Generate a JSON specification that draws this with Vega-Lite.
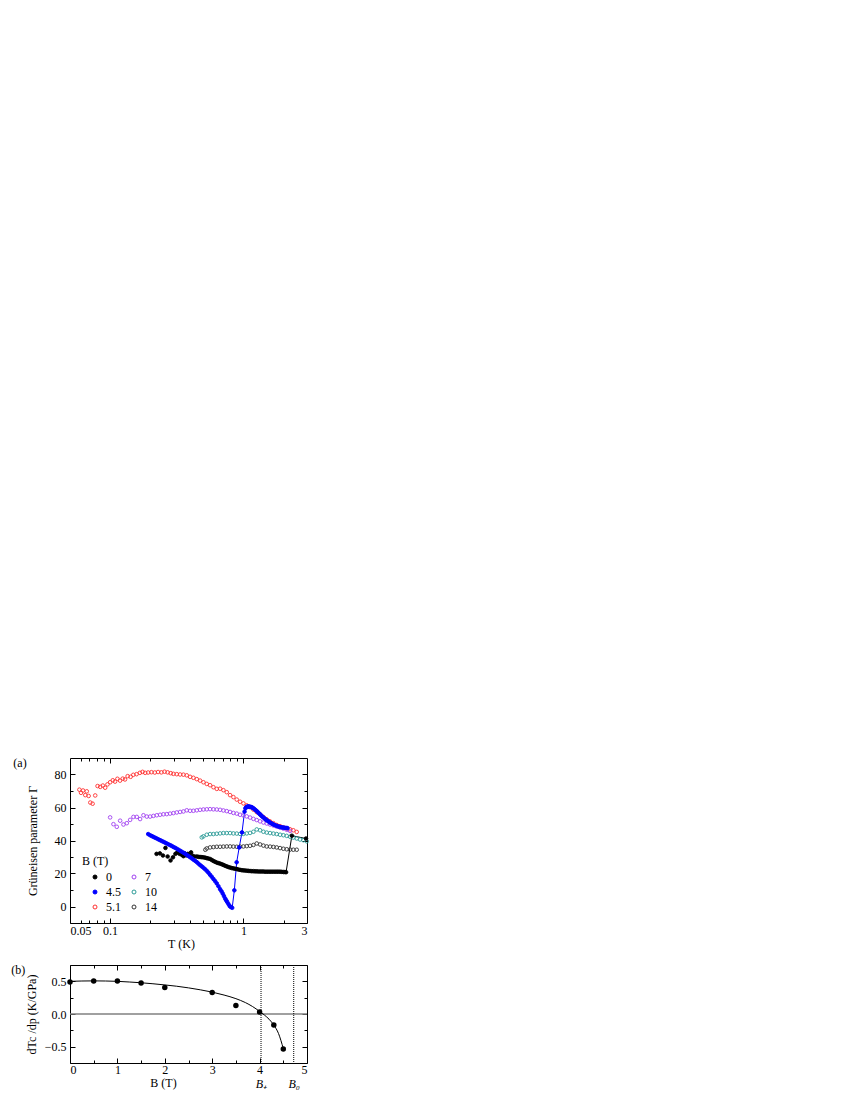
{
"$schema":"https://vega.github.io/schema/vega-lite/v6.json",
"padding":{"left":10,"top":756,"right":5,"bottom":5},
"background":"white",
"config":{
 "font":"Liberation Serif",
 "view":{"stroke":"#000","strokeWidth":1},
 "axis":{"grid":false,"domain":false,"tickColor":"#000","tickWidth":1,"labelColor":"#000","labelFontSize":12,"labelFont":"Liberation Serif","titleFont":"Liberation Serif","titleFontSize":12,"titleFontWeight":"normal","titleColor":"#000"},
 "legend":{"labelFont":"Liberation Serif","titleFont":"Liberation Serif","labelColor":"#000","titleColor":"#000"},
 "title":{"font":"Liberation Serif","fontSize":12,"fontWeight":"normal","color":"#000"}
},
"datasets":{
 "a":[
{"B":"5.1","T":0.0588,"G":70.8},{"B":"5.1","T":0.0605,"G":68.9},{"B":"5.1","T":0.0626,"G":70.3},{"B":"5.1","T":0.0651,"G":67.5},{"B":"5.1","T":0.0668,"G":69.8},{"B":"5.1","T":0.069,"G":67.0},{"B":"5.1","T":0.071,"G":63.0},{"B":"5.1","T":0.0739,"G":62.3},{"B":"5.1","T":0.0773,"G":67.3},{"B":"5.1","T":0.0805,"G":73.0},{"B":"5.1","T":0.0843,"G":72.5},{"B":"5.1","T":0.0882,"G":73.3},{"B":"5.1","T":0.0918,"G":72.0},{"B":"5.1","T":0.0955,"G":74.0},{"B":"5.1","T":0.1,"G":75.3},{"B":"5.1","T":0.1047,"G":76.5},{"B":"5.1","T":0.1089,"G":75.7},{"B":"5.1","T":0.1134,"G":77.4},{"B":"5.1","T":0.1187,"G":76.3},{"B":"5.1","T":0.1243,"G":77.5},{"B":"5.1","T":0.1293,"G":77.0},{"B":"5.1","T":0.1353,"G":79.0},{"B":"5.1","T":0.1425,"G":78.6},{"B":"5.1","T":0.1492,"G":79.8},{"B":"5.1","T":0.1579,"G":80.2},{"B":"5.1","T":0.1672,"G":81.0},{"B":"5.1","T":0.1751,"G":81.6},{"B":"5.1","T":0.1832,"G":81.0},{"B":"5.1","T":0.1929,"G":81.2},{"B":"5.1","T":0.2042,"G":81.4},{"B":"5.1","T":0.2163,"G":81.2},{"B":"5.1","T":0.229,"G":81.5},{"B":"5.1","T":0.2424,"G":81.3},{"B":"5.1","T":0.256,"G":81.7},{"B":"5.1","T":0.27,"G":81.3},{"B":"5.1","T":0.285,"G":80.8},{"B":"5.1","T":0.2985,"G":80.4},{"B":"5.1","T":0.3162,"G":80.2},{"B":"5.1","T":0.335,"G":80.0},{"B":"5.1","T":0.3548,"G":79.9},{"B":"5.1","T":0.3758,"G":79.5},{"B":"5.1","T":0.3981,"G":78.6},{"B":"5.1","T":0.4217,"G":78.0},{"B":"5.1","T":0.4467,"G":77.2},{"B":"5.1","T":0.4732,"G":76.3},{"B":"5.1","T":0.5012,"G":75.3},{"B":"5.1","T":0.5309,"G":74.3},{"B":"5.1","T":0.5623,"G":73.5},{"B":"5.1","T":0.5957,"G":72.3},{"B":"5.1","T":0.631,"G":71.3},{"B":"5.1","T":0.6683,"G":71.4},{"B":"5.1","T":0.7079,"G":70.5},{"B":"5.1","T":0.7499,"G":69.3},{"B":"5.1","T":0.7943,"G":67.5},{"B":"5.1","T":0.8414,"G":66.3},{"B":"5.1","T":0.8913,"G":64.8},{"B":"5.1","T":0.9441,"G":63.5},{"B":"5.1","T":1.0,"G":62.5},{"B":"5.1","T":1.059,"G":61.3},{"B":"5.1","T":1.122,"G":60.2},{"B":"5.1","T":1.189,"G":58.7},{"B":"5.1","T":1.259,"G":57.2},{"B":"5.1","T":1.334,"G":55.8},{"B":"5.1","T":1.413,"G":54.2},{"B":"5.1","T":1.496,"G":52.8},{"B":"5.1","T":1.585,"G":51.6},{"B":"5.1","T":1.679,"G":50.5},{"B":"5.1","T":1.778,"G":49.4},{"B":"5.1","T":1.884,"G":48.7},{"B":"5.1","T":1.995,"G":48.0},{"B":"5.1","T":2.113,"G":47.3},{"B":"5.1","T":2.239,"G":46.8},{"B":"5.1","T":2.371,"G":46.2},{"B":"5.1","T":2.512,"G":45.2},
{"B":"7","T":0.1,"G":54.0},{"B":"7","T":0.1059,"G":49.9},{"B":"7","T":0.1122,"G":48.3},{"B":"7","T":0.1189,"G":52.0},{"B":"7","T":0.1259,"G":49.7},{"B":"7","T":0.1334,"G":50.5},{"B":"7","T":0.1413,"G":52.5},{"B":"7","T":0.1496,"G":54.3},{"B":"7","T":0.1585,"G":54.3},{"B":"7","T":0.1679,"G":53.0},{"B":"7","T":0.1778,"G":55.3},{"B":"7","T":0.1884,"G":54.5},{"B":"7","T":0.1995,"G":54.5},{"B":"7","T":0.2113,"G":54.9},{"B":"7","T":0.2239,"G":55.3},{"B":"7","T":0.2371,"G":55.6},{"B":"7","T":0.2512,"G":55.9},{"B":"7","T":0.2661,"G":56.0},{"B":"7","T":0.2818,"G":56.3},{"B":"7","T":0.2985,"G":56.6},{"B":"7","T":0.3162,"G":57.0},{"B":"7","T":0.335,"G":57.3},{"B":"7","T":0.3548,"G":57.6},{"B":"7","T":0.3758,"G":58.3},{"B":"7","T":0.3981,"G":58.0},{"B":"7","T":0.4217,"G":58.0},{"B":"7","T":0.4467,"G":58.3},{"B":"7","T":0.4732,"G":58.6},{"B":"7","T":0.5012,"G":58.8},{"B":"7","T":0.5309,"G":58.9},{"B":"7","T":0.5623,"G":59.0},{"B":"7","T":0.5957,"G":58.9},{"B":"7","T":0.631,"G":58.8},{"B":"7","T":0.6683,"G":58.6},{"B":"7","T":0.7079,"G":58.2},{"B":"7","T":0.7499,"G":57.8},{"B":"7","T":0.7943,"G":57.3},{"B":"7","T":0.8414,"G":56.7},{"B":"7","T":0.8913,"G":56.3},{"B":"7","T":0.9441,"G":55.6},{"B":"7","T":1.0,"G":55.2},{"B":"7","T":1.059,"G":54.6},{"B":"7","T":1.122,"G":53.9},{"B":"7","T":1.189,"G":53.1},{"B":"7","T":1.259,"G":52.4},{"B":"7","T":1.334,"G":51.6},{"B":"7","T":1.413,"G":50.9},{"B":"7","T":1.496,"G":50.3},{"B":"7","T":1.585,"G":49.7},{"B":"7","T":1.679,"G":49.1},{"B":"7","T":1.778,"G":48.4},{"B":"7","T":1.884,"G":47.8},{"B":"7","T":1.995,"G":47.2},{"B":"7","T":2.113,"G":46.5},{"B":"7","T":2.239,"G":45.8},
{"B":"10","T":0.487,"G":41.9},{"B":"10","T":0.5012,"G":42.5},{"B":"10","T":0.5309,"G":43.5},{"B":"10","T":0.5623,"G":43.9},{"B":"10","T":0.5957,"G":43.9},{"B":"10","T":0.631,"G":44.1},{"B":"10","T":0.6683,"G":44.3},{"B":"10","T":0.7079,"G":44.5},{"B":"10","T":0.7499,"G":44.5},{"B":"10","T":0.7943,"G":44.5},{"B":"10","T":0.8414,"G":44.3},{"B":"10","T":0.8913,"G":44.2},{"B":"10","T":0.9441,"G":44.0},{"B":"10","T":1.0,"G":44.0},{"B":"10","T":1.059,"G":44.3},{"B":"10","T":1.122,"G":44.6},{"B":"10","T":1.189,"G":45.3},{"B":"10","T":1.259,"G":46.7},{"B":"10","T":1.334,"G":46.2},{"B":"10","T":1.413,"G":45.3},{"B":"10","T":1.496,"G":44.8},{"B":"10","T":1.585,"G":44.5},{"B":"10","T":1.679,"G":44.2},{"B":"10","T":1.778,"G":43.9},{"B":"10","T":1.884,"G":43.5},{"B":"10","T":1.995,"G":43.2},{"B":"10","T":2.113,"G":42.8},{"B":"10","T":2.239,"G":42.3},{"B":"10","T":2.371,"G":41.8},{"B":"10","T":2.512,"G":41.2},{"B":"10","T":2.661,"G":40.6},{"B":"10","T":2.818,"G":40.2},{"B":"10","T":2.985,"G":39.5},
{"B":"14","T":0.518,"G":34.4},{"B":"14","T":0.5309,"G":35.2},{"B":"14","T":0.5623,"G":35.8},{"B":"14","T":0.5957,"G":36.0},{"B":"14","T":0.631,"G":36.2},{"B":"14","T":0.6683,"G":36.2},{"B":"14","T":0.7079,"G":36.3},{"B":"14","T":0.7499,"G":36.4},{"B":"14","T":0.7943,"G":36.4},{"B":"14","T":0.8414,"G":36.3},{"B":"14","T":0.8913,"G":36.2},{"B":"14","T":0.9441,"G":36.3},{"B":"14","T":1.0,"G":36.4},{"B":"14","T":1.059,"G":36.6},{"B":"14","T":1.122,"G":36.8},{"B":"14","T":1.189,"G":37.3},{"B":"14","T":1.259,"G":38.2},{"B":"14","T":1.334,"G":37.6},{"B":"14","T":1.413,"G":36.9},{"B":"14","T":1.496,"G":36.4},{"B":"14","T":1.585,"G":36.3},{"B":"14","T":1.679,"G":36.1},{"B":"14","T":1.778,"G":35.8},{"B":"14","T":1.884,"G":35.4},{"B":"14","T":1.995,"G":35.0},{"B":"14","T":2.113,"G":34.7},{"B":"14","T":2.239,"G":34.5},{"B":"14","T":2.371,"G":34.4},{"B":"14","T":2.512,"G":34.4},
{"B":"0","T":0.223,"G":31.9},{"B":"0","T":0.236,"G":32.2},{"B":"0","T":0.249,"G":30.9},{"B":"0","T":0.26,"G":35.5},{"B":"0","T":0.27,"G":30.3},{"B":"0","T":0.284,"G":27.9},{"B":"0","T":0.296,"G":29.8},{"B":"0","T":0.309,"G":31.9},{"B":"0","T":0.319,"G":32.7},{"B":"0","T":0.332,"G":31.9},{"B":"0","T":0.345,"G":31.3},{"B":"0","T":0.355,"G":30.5},{"B":"0","T":0.362,"G":32.2},{"B":"0","T":0.372,"G":31.0},{"B":"0","T":0.383,"G":31.9},{"B":"0","T":0.394,"G":30.6},{"B":"0","T":0.405,"G":32.8},{"B":"0","T":0.415,"G":30.8},{"B":"0","T":0.43,"G":30.3},{"B":"0","T":0.4467,"G":30.3},{"B":"0","T":0.46,"G":30.1},{"B":"0","T":0.4732,"G":30.0},{"B":"0","T":0.487,"G":29.9},{"B":"0","T":0.5012,"G":29.8},{"B":"0","T":0.516,"G":29.6},{"B":"0","T":0.5309,"G":29.3},{"B":"0","T":0.546,"G":29.1},{"B":"0","T":0.5623,"G":28.8},{"B":"0","T":0.579,"G":28.2},{"B":"0","T":0.5957,"G":27.6},{"B":"0","T":0.613,"G":27.1},{"B":"0","T":0.631,"G":26.6},{"B":"0","T":0.649,"G":26.3},{"B":"0","T":0.6683,"G":26.0},{"B":"0","T":0.688,"G":25.6},{"B":"0","T":0.7079,"G":25.2},{"B":"0","T":0.729,"G":24.7},{"B":"0","T":0.7499,"G":24.3},{"B":"0","T":0.772,"G":23.9},{"B":"0","T":0.7943,"G":23.6},{"B":"0","T":0.817,"G":23.3},{"B":"0","T":0.8414,"G":23.1},{"B":"0","T":0.866,"G":22.9},{"B":"0","T":0.8913,"G":22.7},{"B":"0","T":0.917,"G":22.4},{"B":"0","T":0.9441,"G":22.2},{"B":"0","T":0.972,"G":22.0},{"B":"0","T":1.0,"G":21.9},{"B":"0","T":1.029,"G":21.8},{"B":"0","T":1.059,"G":21.7},{"B":"0","T":1.09,"G":21.6},{"B":"0","T":1.122,"G":21.5},{"B":"0","T":1.155,"G":21.4},{"B":"0","T":1.189,"G":21.4},{"B":"0","T":1.223,"G":21.3},{"B":"0","T":1.259,"G":21.3},{"B":"0","T":1.296,"G":21.2},{"B":"0","T":1.334,"G":21.2},{"B":"0","T":1.372,"G":21.2},{"B":"0","T":1.413,"G":21.2},{"B":"0","T":1.454,"G":21.1},{"B":"0","T":1.496,"G":21.1},{"B":"0","T":1.54,"G":21.1},{"B":"0","T":1.585,"G":21.1},{"B":"0","T":1.63,"G":21.1},{"B":"0","T":1.679,"G":21.1},{"B":"0","T":1.728,"G":21.1},{"B":"0","T":1.778,"G":21.1},{"B":"0","T":1.83,"G":21.1},{"B":"0","T":1.884,"G":21.1},{"B":"0","T":1.94,"G":21.0},{"B":"0","T":1.995,"G":20.9},{"B":"0","T":2.05,"G":20.9},{"B":"0","T":2.09,"G":20.8},{"B":"0","T":2.31,"G":42.9},{"B":"0","T":2.95,"G":41.2},
{"B":"4.5","T":0.193,"G":43.9},{"B":"4.5","T":0.1995,"G":43.2},{"B":"4.5","T":0.2053,"G":42.7},{"B":"4.5","T":0.2113,"G":42.2},{"B":"4.5","T":0.2175,"G":41.7},{"B":"4.5","T":0.2239,"G":41.2},{"B":"4.5","T":0.2304,"G":40.7},{"B":"4.5","T":0.2371,"G":40.2},{"B":"4.5","T":0.2441,"G":39.7},{"B":"4.5","T":0.2512,"G":39.2},{"B":"4.5","T":0.2585,"G":38.7},{"B":"4.5","T":0.2661,"G":38.2},{"B":"4.5","T":0.2738,"G":37.7},{"B":"4.5","T":0.2818,"G":37.2},{"B":"4.5","T":0.29,"G":36.7},{"B":"4.5","T":0.2985,"G":36.1},{"B":"4.5","T":0.3072,"G":35.6},{"B":"4.5","T":0.3162,"G":35.0},{"B":"4.5","T":0.3255,"G":34.4},{"B":"4.5","T":0.335,"G":33.8},{"B":"4.5","T":0.3447,"G":33.2},{"B":"4.5","T":0.3548,"G":32.6},{"B":"4.5","T":0.3652,"G":32.0},{"B":"4.5","T":0.3758,"G":31.3},{"B":"4.5","T":0.3868,"G":30.6},{"B":"4.5","T":0.3981,"G":29.9},{"B":"4.5","T":0.4097,"G":29.2},{"B":"4.5","T":0.4217,"G":28.4},{"B":"4.5","T":0.434,"G":27.7},{"B":"4.5","T":0.4467,"G":26.9},{"B":"4.5","T":0.4597,"G":26.0},{"B":"4.5","T":0.4732,"G":25.1},{"B":"4.5","T":0.487,"G":24.3},{"B":"4.5","T":0.5012,"G":23.5},{"B":"4.5","T":0.5158,"G":22.6},{"B":"4.5","T":0.5309,"G":21.6},{"B":"4.5","T":0.5464,"G":20.5},{"B":"4.5","T":0.5623,"G":19.2},{"B":"4.5","T":0.5788,"G":18.0},{"B":"4.5","T":0.5957,"G":16.7},{"B":"4.5","T":0.6131,"G":15.4},{"B":"4.5","T":0.631,"G":14.0},{"B":"4.5","T":0.6494,"G":12.3},{"B":"4.5","T":0.6683,"G":10.5},{"B":"4.5","T":0.685,"G":9.2},{"B":"4.5","T":0.7,"G":7.8},{"B":"4.5","T":0.715,"G":6.3},{"B":"4.5","T":0.73,"G":4.8},{"B":"4.5","T":0.742,"G":3.8},{"B":"4.5","T":0.755,"G":2.8},{"B":"4.5","T":0.772,"G":1.5},{"B":"4.5","T":0.79,"G":0.2},{"B":"4.5","T":0.806,"G":-0.3},{"B":"4.5","T":0.824,"G":-0.8},{"B":"4.5","T":0.855,"G":9.8},{"B":"4.5","T":0.89,"G":26.8},{"B":"4.5","T":0.93,"G":35.8},{"B":"4.5","T":0.976,"G":44.9},{"B":"4.5","T":1.02,"G":57.5},{"B":"4.5","T":1.035,"G":59.5},{"B":"4.5","T":1.05,"G":60.1},{"B":"4.5","T":1.065,"G":60.5},{"B":"4.5","T":1.08,"G":60.6},{"B":"4.5","T":1.095,"G":60.6},{"B":"4.5","T":1.11,"G":60.5},{"B":"4.5","T":1.13,"G":60.4},{"B":"4.5","T":1.15,"G":60.2},{"B":"4.5","T":1.17,"G":59.9},{"B":"4.5","T":1.19,"G":59.5},{"B":"4.5","T":1.215,"G":58.9},{"B":"4.5","T":1.24,"G":58.3},{"B":"4.5","T":1.265,"G":57.7},{"B":"4.5","T":1.29,"G":57.0},{"B":"4.5","T":1.315,"G":56.3},{"B":"4.5","T":1.34,"G":55.7},{"B":"4.5","T":1.365,"G":55.0},{"B":"4.5","T":1.39,"G":54.4},{"B":"4.5","T":1.42,"G":53.8},{"B":"4.5","T":1.45,"G":53.2},{"B":"4.5","T":1.48,"G":52.6},{"B":"4.5","T":1.51,"G":52.1},{"B":"4.5","T":1.54,"G":51.6},{"B":"4.5","T":1.57,"G":51.1},{"B":"4.5","T":1.605,"G":50.6},{"B":"4.5","T":1.64,"G":50.2},{"B":"4.5","T":1.675,"G":49.8},{"B":"4.5","T":1.71,"G":49.4},{"B":"4.5","T":1.75,"G":49.1},{"B":"4.5","T":1.79,"G":48.8},{"B":"4.5","T":1.83,"G":48.5},{"B":"4.5","T":1.87,"G":48.3},{"B":"4.5","T":1.915,"G":48.1},{"B":"4.5","T":1.96,"G":47.9},{"B":"4.5","T":2.0,"G":47.8},{"B":"4.5","T":2.05,"G":47.7},{"B":"4.5","T":2.1,"G":47.6},{"B":"4.5","T":2.14,"G":47.5}
 ],
 "b":[{"B":0,"d":0.49},{"B":0.5,"d":0.505},{"B":1,"d":0.505},{"B":1.5,"d":0.475},{"B":2,"d":0.405},{"B":3,"d":0.33},{"B":3.5,"d":0.13},{"B":4,"d":0.03},{"B":4.3,"d":-0.17},{"B":4.5,"d":-0.535}],
 "curve":[{"B":0,"d":0.5},{"B":0.25,"d":0.505},{"B":0.5,"d":0.507},{"B":0.75,"d":0.505},{"B":1,"d":0.5},{"B":1.25,"d":0.49},{"B":1.5,"d":0.478},{"B":1.75,"d":0.463},{"B":2,"d":0.445},{"B":2.25,"d":0.425},{"B":2.5,"d":0.4},{"B":2.75,"d":0.37},{"B":3,"d":0.335},{"B":3.25,"d":0.29},{"B":3.5,"d":0.235},{"B":3.7,"d":0.175},{"B":3.85,"d":0.115},{"B":4.0,"d":0.04},{"B":4.1,"d":-0.015},{"B":4.2,"d":-0.08},{"B":4.3,"d":-0.17},{"B":4.4,"d":-0.3},{"B":4.5,"d":-0.53}],
 "bm":[{"B":4.03},{"B":4.72}],
 "zero":[{"d":0}]
},
"spacing":13,
"vconcat":[
{
 "width":237,"height":165,
 "title":{"text":"(a)","orient":"left","anchor":"end","frame":"group","angle":0,"align":"right","baseline":"top","offset":-14},
 "data":{"name":"a"},
 "resolve":{"axis":{"x":"independent","y":"independent"}},
 "layer":[
  {"transform":[{"filter":"datum.B == '4.5'"}],
   "mark":{"type":"line","color":"#0000ff","strokeWidth":1},
   "encoding":{"x":{"field":"T","type":"quantitative","scale":{"type":"log","domain":[0.05,3],"nice":false},"axis":null},
               "y":{"field":"G","type":"quantitative","scale":{"domain":[-10,90],"nice":false},"axis":null}}},
  {"transform":[{"filter":"datum.B == '0' && datum.T > 2"}],
   "mark":{"type":"line","color":"#000000","strokeWidth":1},
   "encoding":{"x":{"field":"T","type":"quantitative","axis":null},
               "y":{"field":"G","type":"quantitative","axis":null}}},
  {"mark":{"type":"point","shape":"circle","size":13,"strokeWidth":0.9,"opacity":1},
   "encoding":{
    "x":{"field":"T","type":"quantitative","axis":{"orient":"bottom","values":[0.05,0.1,1,3],"format":"~g","tickSize":-5,"labelPadding":7,"title":"T (K)","titlePadding":2,"titleX":111}},
    "y":{"field":"G","type":"quantitative","axis":{"orient":"left","values":[0,20,40,60,80],"tickSize":-5,"labelPadding":9,"title":"Grüneisen parameter Γ","titlePadding":15}},
    "stroke":{"field":"B","type":"nominal","scale":{"domain":["0","4.5","5.1","7","10","14"],"range":["#000000","#0000ff","#ff3030","#a040f0","#2a9a96","#333333"]},
      "legend":{"title":"B (T)","orient":"none","legendX":12,"legendY":98,"columns":2,"symbolType":"circle","symbolSize":16,"symbolStrokeWidth":1,"symbolOffset":7,"labelFontSize":12,"titleFontSize":12,"titleFontWeight":"normal","rowPadding":3,"columnPadding":0,"labelOffset":5,"titlePadding":3,"padding":0}},
    "fill":{"field":"B","type":"nominal","scale":{"domain":["0","4.5","5.1","7","10","14"],"range":["#000000","#0000ff","transparent","transparent","transparent","transparent"]},
      "legend":{"title":"B (T)","orient":"none","legendX":12,"legendY":98,"columns":2,"symbolType":"circle","symbolSize":16,"symbolStrokeWidth":1,"symbolOffset":7,"labelFontSize":12,"titleFontSize":12,"titleFontWeight":"normal","rowPadding":3,"columnPadding":0,"labelOffset":5,"titlePadding":3,"padding":0}}
   }},
  {"mark":{"type":"point","opacity":0},
   "encoding":{
    "x":{"field":"T","type":"quantitative","axis":{"orient":"bottom","values":[0.06,0.07,0.08,0.09,0.2,0.3,0.4,0.5,0.6,0.7,0.8,0.9,2],"labels":false,"tickSize":-3,"title":null}},
    "y":{"field":"G","type":"quantitative","axis":{"orient":"left","values":[10,30,50,70],"labels":false,"tickSize":-3,"title":null}}}},
  {"mark":{"type":"point","opacity":0},
   "encoding":{
    "x":{"field":"T","type":"quantitative","axis":{"orient":"top","values":[0.1,1],"labels":false,"tickSize":-5,"title":null}},
    "y":{"field":"G","type":"quantitative","axis":{"orient":"right","values":[0,20,40,60,80],"labels":false,"tickSize":-5,"title":null}}}},
  {"mark":{"type":"point","opacity":0},
   "encoding":{
    "x":{"field":"T","type":"quantitative","axis":{"orient":"top","values":[0.06,0.07,0.08,0.09,0.2,0.3,0.4,0.5,0.6,0.7,0.8,0.9,2],"labels":false,"tickSize":-3,"title":null}},
    "y":{"field":"G","type":"quantitative","axis":{"orient":"right","values":[10,30,50,70],"labels":false,"tickSize":-3,"title":null}}}}
 ]
},
{
 "width":237,"height":98,
 "title":{"text":"(b)","orient":"left","anchor":"end","frame":"group","angle":0,"align":"right","baseline":"top","offset":-14},
 "resolve":{"axis":{"x":"independent","y":"independent"}},
 "layer":[
  {"data":{"name":"zero"},
   "mark":{"type":"rule","color":"#808080","strokeWidth":1.5},
   "encoding":{"y":{"field":"d","type":"quantitative","scale":{"domain":[-0.75,0.75],"nice":false},"axis":null}}},
  {"data":{"name":"bm"},
   "mark":{"type":"rule","color":"#000000","strokeWidth":1,"strokeDash":[1,1]},
   "encoding":{"x":{"field":"B","type":"quantitative","scale":{"domain":[0,5],"nice":false},"axis":null}}},
  {"data":{"name":"curve"},
   "mark":{"type":"line","color":"#000000","strokeWidth":1,"interpolate":"monotone"},
   "encoding":{"x":{"field":"B","type":"quantitative","axis":null},"y":{"field":"d","type":"quantitative","axis":null}}},
  {"data":{"name":"b"},
   "mark":{"type":"point","shape":"circle","filled":true,"size":30,"color":"#000000","opacity":1},
   "encoding":{
    "x":{"field":"B","type":"quantitative","axis":{"orient":"bottom","values":[0,1,2,3,4,5],"format":"d","tickSize":-5,"labelPadding":6,"title":"B (T)","titlePadding":2,"titleX":93}},
    "y":{"field":"d","type":"quantitative","axis":{"orient":"left","values":[-0.5,0,0.5],"format":".1f","tickSize":-5,"labelPadding":9,"title":"dTc /dp (K/GPa)","titlePadding":6}}}},
  {"data":{"name":"b"},
   "mark":{"type":"point","opacity":0},
   "encoding":{
    "x":{"field":"B","type":"quantitative","axis":{"orient":"bottom","values":[0.5,1.5,2.5,3.5,4.5],"labels":false,"tickSize":-3,"title":null}},
    "y":{"field":"d","type":"quantitative","axis":{"orient":"left","values":[-0.25,0.25],"labels":false,"tickSize":-3,"title":null}}}},
  {"data":{"name":"b"},
   "mark":{"type":"point","opacity":0},
   "encoding":{
    "x":{"field":"B","type":"quantitative","axis":{"orient":"top","values":[0,1,2,3,4,5],"labels":false,"tickSize":-5,"title":null}},
    "y":{"field":"d","type":"quantitative","axis":{"orient":"right","values":[-0.5,0,0.5],"labels":false,"tickSize":-5,"title":null}}}},
  {"data":{"name":"b"},
   "mark":{"type":"point","opacity":0},
   "encoding":{
    "x":{"field":"B","type":"quantitative","axis":{"orient":"top","values":[0.5,1.5,2.5,3.5,4.5],"labels":false,"tickSize":-3,"title":null}},
    "y":{"field":"d","type":"quantitative","axis":{"orient":"right","values":[-0.25,0.25],"labels":false,"tickSize":-3,"title":null}}}},
  {"data":{"name":"bm"},
   "mark":{"type":"point","opacity":0},
   "encoding":{
    "x":{"field":"B","type":"quantitative","axis":{"orient":"bottom","values":[4.03,4.72],"labelExpr":"datum.value < 4.4 ? 'B₊' : 'B₀'","ticks":false,"labelPadding":15,"labelFontStyle":"italic","title":null}}}}
 ]
}
]
}
